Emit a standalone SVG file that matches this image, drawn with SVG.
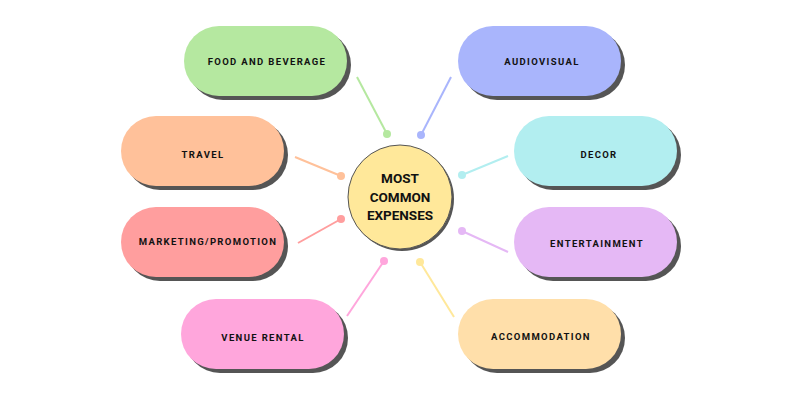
<svg xmlns="http://www.w3.org/2000/svg" width="800" height="400" viewBox="0 0 800 400">
<style>
.sh{fill:#555555}
.lbl{font-family:Roboto,"Liberation Sans",sans-serif;font-weight:700;font-size:9.5px;letter-spacing:1.35px;fill:#111;text-anchor:middle;dominant-baseline:central}
.ctr{font-family:Roboto,"Liberation Sans",sans-serif;font-weight:700;font-size:13.5px;fill:#111;text-anchor:middle}
.ln{stroke-width:2;fill:none}
</style>
<rect width="800" height="400" fill="#ffffff"/>
<g id="connectors">
<line class="ln" x1="357" y1="77" x2="387" y2="134" stroke="#b5e8a0"/><circle cx="387" cy="134" r="4" fill="#b5e8a0"/>
<line class="ln" x1="451" y1="77" x2="421" y2="135" stroke="#a9b5fc"/><circle cx="421" cy="135" r="4" fill="#a9b5fc"/>
<line class="ln" x1="295" y1="157" x2="341" y2="176" stroke="#ffc19a"/><circle cx="341" cy="176" r="4" fill="#ffc19a"/>
<line class="ln" x1="508" y1="156" x2="462" y2="175" stroke="#b2eef0"/><circle cx="462" cy="175" r="4" fill="#b2eef0"/>
<line class="ln" x1="298" y1="243" x2="341" y2="219" stroke="#ff9e9e"/><circle cx="341" cy="219" r="4" fill="#ff9e9e"/>
<line class="ln" x1="508" y1="252" x2="462" y2="231" stroke="#e5b8f5"/><circle cx="462" cy="231" r="4" fill="#e5b8f5"/>
<line class="ln" x1="347" y1="316" x2="384" y2="261" stroke="#ffa6dc"/><circle cx="384" cy="261" r="4" fill="#ffa6dc"/>
<line class="ln" x1="454" y1="317" x2="420" y2="262" stroke="#ffe89a"/><circle cx="420" cy="262" r="4" fill="#ffe89a"/>
</g>
<g id="center">
<circle cx="402" cy="199" r="52" fill="#555555"/>
<circle cx="400" cy="197" r="52" fill="#ffe89a" stroke="#555555" stroke-width="1"/>
<text class="ctr" x="400" y="183">MOST</text>
<text class="ctr" x="400" y="201.5">COMMON</text>
<text class="ctr" x="400" y="219.5">EXPENSES</text>
</g>
<g id="food">
<rect class="sh" x="188" y="30" width="163" height="70" rx="35"/>
<rect x="184" y="26" width="163" height="70" rx="35" fill="#b5e8a0"/>
<text class="lbl" x="267" y="61">FOOD AND BEVERAGE</text>
</g>
<g id="audiovisual">
<rect class="sh" x="462" y="30" width="163" height="70" rx="35"/>
<rect x="458" y="26" width="163" height="70" rx="35" fill="#a9b5fc"/>
<text class="lbl" x="542" y="61">AUDIOVISUAL</text>
</g>
<g id="travel">
<rect class="sh" x="125" y="120" width="163" height="70" rx="35"/>
<rect x="121" y="116" width="163" height="70" rx="35" fill="#ffc19a"/>
<text class="lbl" x="203" y="154">TRAVEL</text>
</g>
<g id="decor">
<rect class="sh" x="518" y="120" width="163" height="70" rx="35"/>
<rect x="514" y="116" width="163" height="70" rx="35" fill="#b2eef0"/>
<text class="lbl" x="599" y="154">DECOR</text>
</g>
<g id="marketing">
<rect class="sh" x="125" y="211" width="163" height="70" rx="35"/>
<rect x="121" y="207" width="163" height="70" rx="35" fill="#ff9e9e"/>
<text class="lbl" x="208" y="241">MARKETING/PROMOTION</text>
</g>
<g id="entertainment">
<rect class="sh" x="518" y="211" width="163" height="70" rx="35"/>
<rect x="514" y="207" width="163" height="70" rx="35" fill="#e5b8f5"/>
<text class="lbl" x="597" y="243">ENTERTAINMENT</text>
</g>
<g id="venue">
<rect class="sh" x="185" y="303" width="163" height="70" rx="35"/>
<rect x="181" y="299" width="163" height="70" rx="35" fill="#ffa6dc"/>
<text class="lbl" x="263" y="337">VENUE RENTAL</text>
</g>
<g id="accommodation">
<rect class="sh" x="462" y="303" width="163" height="70" rx="35"/>
<rect x="458" y="299" width="163" height="70" rx="35" fill="#ffdfaa"/>
<text class="lbl" x="541" y="336">ACCOMMODATION</text>
</g>
</svg>
